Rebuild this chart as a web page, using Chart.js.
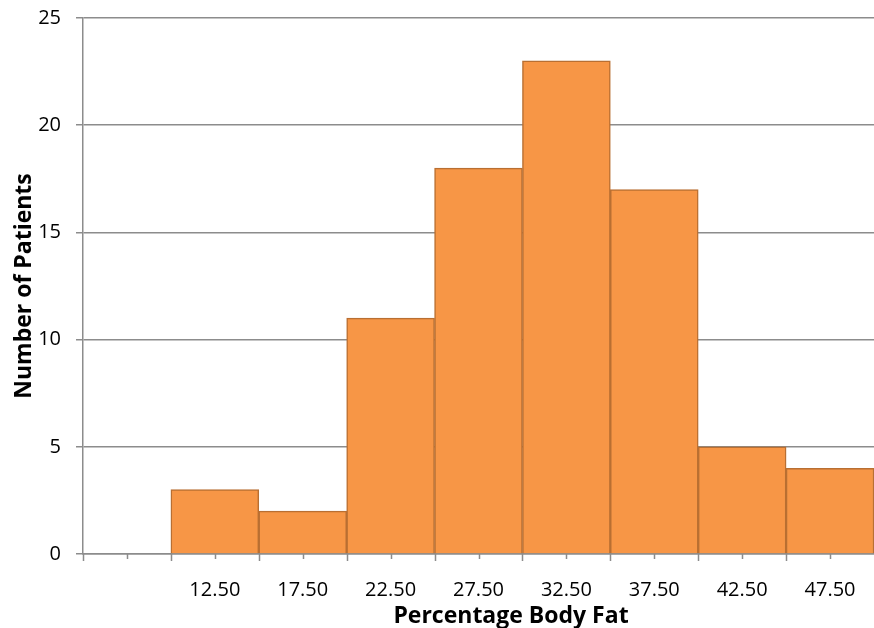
<!DOCTYPE html>
<html>
<head>
<meta charset="utf-8">
<script src="https://cdn.jsdelivr.net/npm/chart.js@4"></script>
<style>
  body { margin: 0; background: #fff; }
  #wrap { width: 874px; height: 628px; }
</style>
</head>
<body>
<div id="wrap"><canvas id="histo" width="874" height="628"></canvas></div>
<script>
// bins (first bin is empty, no label)
const binLabels = ['', '12.50', '17.50', '22.50', '27.50', '32.50', '37.50', '42.50', '47.50'];
const patientCounts = [null, 3, 2, 11, 18, 23, 17, 5, 4];
const yTicks = [0, 5, 10, 15, 20, 25];

const axisGray = '#8c8c8c';
const fontName = '"Open Sans", sans-serif';

// small tick marks under the x axis: long at bin edges, short at bin centres
const xTickMarks = {
  id: 'xTickMarks',
  afterDraw(chart) {
    const ctx = chart.ctx;
    const x = chart.scales.x;
    const y0 = chart.chartArea.bottom;
    const half = (x.getPixelForValue(1) - x.getPixelForValue(0)) / 2;
    ctx.save();
    ctx.strokeStyle = axisGray;
    ctx.lineWidth = 1.5;
    ctx.beginPath();
    for (let i = 0; i < binLabels.length; i++) {
      const c = Math.round(x.getPixelForValue(i)) + 0.5;
      const e = Math.round(x.getPixelForValue(i) - half) + 0.5;
      ctx.moveTo(e, y0); ctx.lineTo(e, y0 + 7);
      ctx.moveTo(c, y0); ctx.lineTo(c, y0 + 5);
    }
    ctx.stroke();
    // x title
    ctx.fillStyle = '#000';
    ctx.font = 'bold 23px ' + fontName;
    ctx.textAlign = 'center';
    ctx.textBaseline = 'alphabetic';
    ctx.fillText('Percentage Body Fat', 511, 623);
    ctx.restore();
  }
};

new Chart(document.getElementById('histo'), {
  type: 'bar',
  data: {
    labels: binLabels,
    datasets: [{
      data: patientCounts,
      backgroundColor: '#f79646',
      borderColor: '#b96f32',
      borderWidth: 1.5,
      barPercentage: 1,
      categoryPercentage: 1
    }]
  },
  options: {
    responsive: false,
    animation: false,
    layout: { padding: { top: 18, right: -2, left: 0, bottom: 0 } },
    plugins: { legend: { display: false }, tooltip: { enabled: false } },
    scales: {
      x: {
        grid: { display: false, drawTicks: false },
        border: { display: true, color: axisGray, width: 1.5 },
        ticks: { color: '#000', font: { family: fontName, size: 20 }, padding: 24, maxRotation: 0, autoSkip: false },
        afterFit(s) { s.height = 74; s.paddingLeft = 0; s.paddingRight = 0; }
      },
      y: {
        min: 0,
        max: 25,
        afterBuildTicks(s) { s.ticks = yTicks.map(v => ({ value: v })); },
        grid: { color: axisGray, lineWidth: 1.5, tickLength: 7 },
        border: { color: axisGray, width: 1.5 },
        ticks: { color: '#000', font: { family: fontName, size: 20 }, padding: 15 },
        title: {
          display: true,
          text: 'Number of Patients',
          color: '#000',
          font: { family: fontName, size: 23, weight: 'bold' },
          padding: { top: 11, bottom: 0 }
        },
        afterFit(s) { s.width = 83; s.paddingTop = 0; s.paddingBottom = 0; }
      }
    }
  },
  plugins: [xTickMarks]
});
</script>
</body>
</html>
